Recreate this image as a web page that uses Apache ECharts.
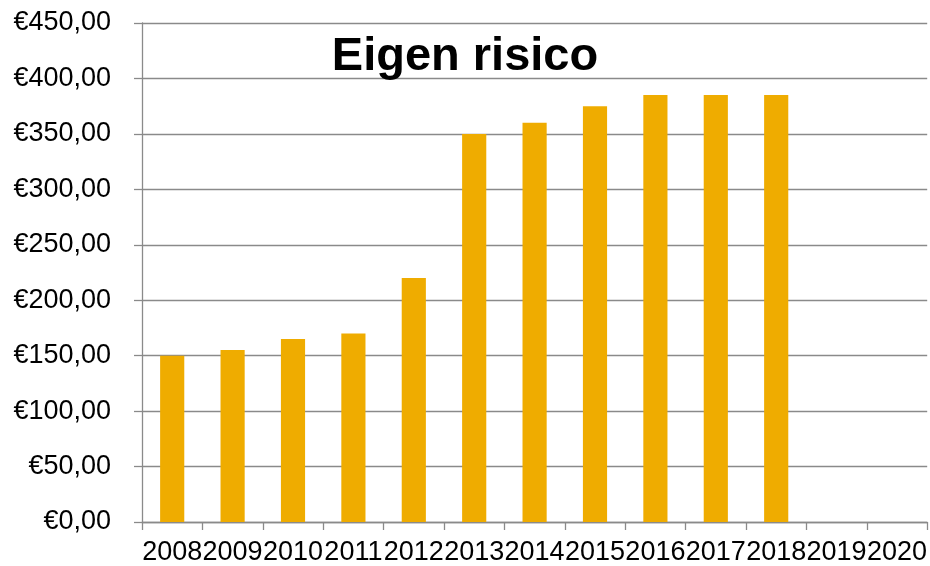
<!DOCTYPE html>
<html>
<head>
<meta charset="utf-8">
<script src="https://cdn.jsdelivr.net/npm/echarts@6/dist/echarts.min.js"></script>
<style>
html,body{margin:0;padding:0;background:#fff;}
#chart{width:930px;height:566px;}
</style>
</head>
<body>
<div id="chart"></div>
<script>
var years = ['2008','2009','2010','2011','2012','2013','2014','2015','2016','2017','2018','2019','2020'];
var values = [150, 155, 165, 170, 220, 350, 360, 375, 385, 385, 385, null, null];
var yMin = 0, yMax = 450, yStep = 50;
var titleText = 'Eigen risico';

var chart = echarts.init(document.getElementById('chart'));
var font = 'Liberation Sans, Arial, sans-serif';
var gridColor = '#8a8a8a';
chart.setOption({
  animation: false,
  title: {
    text: titleText,
    left: 460,
    top: 29,
    textAlign: 'center',
    textStyle: {fontFamily: font, fontSize: 47, fontWeight: 'bold', color: '#000'}
  },
  grid: {left: 142, right: 2, top: 23, bottom: 43, containLabel: false},
  xAxis: {
    type: 'category',
    data: years,
    boundaryGap: true,
    axisLine: {show: true, lineStyle: {color: gridColor, width: 1.3}},
    axisTick: {show: true, length: 8, lineStyle: {color: gridColor, width: 1.3}},
    axisLabel: {interval: 0, margin: 17, fontFamily: font, fontSize: 27, color: '#000'}
  },
  yAxis: {
    type: 'value',
    min: yMin, max: yMax, interval: yStep,
    axisLine: {show: true, lineStyle: {color: gridColor, width: 1.3}},
    axisTick: {show: true, length: 8, lineStyle: {color: gridColor, width: 1.3}},
    splitLine: {show: true, lineStyle: {color: gridColor, width: 1.3}},
    axisLabel: {
      margin: 31, fontFamily: font, fontSize: 27, color: '#000',
      formatter: function (v) { return '€' + v.toFixed(2).replace('.', ','); }
    }
  },
  series: [{
    type: 'bar',
    data: values,
    barWidth: '40%',
    itemStyle: {color: '#EFAC00'}
  }]
});
</script>
</body>
</html>
